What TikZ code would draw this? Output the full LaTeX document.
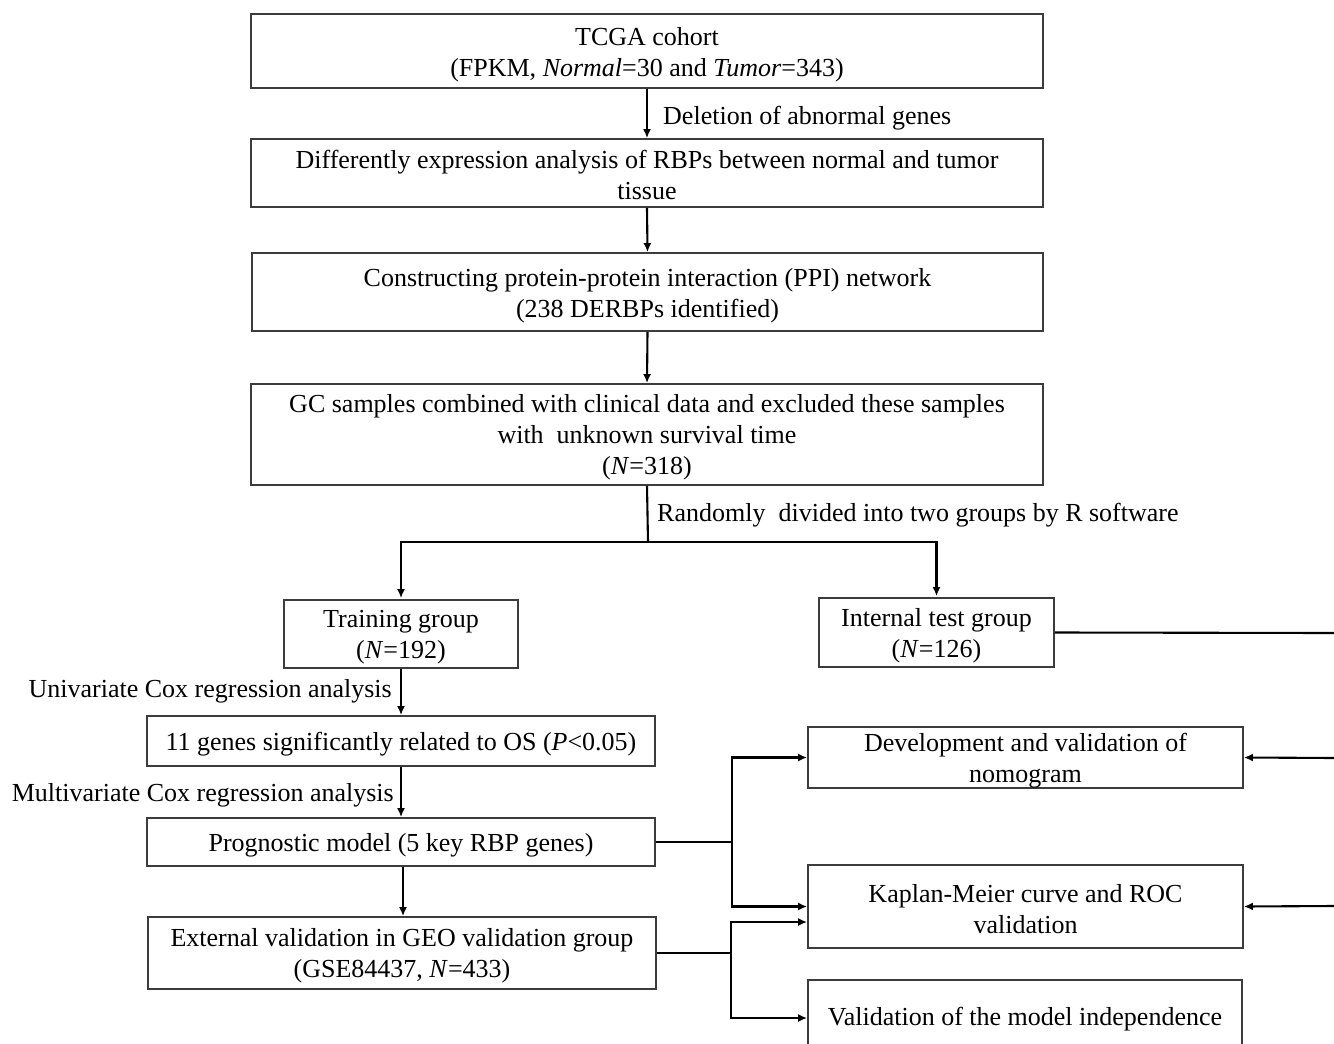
\documentclass[tikz,border=0pt]{standalone}
\usepackage{fontspec}
\setmainfont{Liberation Serif}
\usetikzlibrary{arrows.meta}
\definecolor{boxgray}{HTML}{3C3C3C}
\begin{document}
\begin{tikzpicture}[x=1pt,y=-1pt,
  every node/.style={font=\fontsize{26}{31}\selectfont, inner sep=0pt},
  box/.style={draw=boxgray, line width=1.8pt},
  txt/.style={align=center},
  conn/.style={line width=2.1pt, draw=black},
  arr/.style={conn, -{Latex[length=9pt,width=8pt]}},
  lbl/.style={}]
\useasboundingbox (0,0) rectangle (1334,1044);
\clip (0,0) rectangle (1334,1044);
\fill[white] (0,0) rectangle (1334,1044);

% boxes
\node[box, minimum width=792pt, minimum height=74pt] (tcga) at (647,51) {};
\node[box, minimum width=792pt, minimum height=68pt] (dea) at (647,173) {};
\node[box, minimum width=791pt, minimum height=78pt] (ppi) at (647.5,292) {};
\node[box, minimum width=792pt, minimum height=101pt] (gc) at (647,434.5) {};
\node[box, minimum width=234pt, minimum height=68pt] (train) at (401,634) {};
\node[box, minimum width=235pt, minimum height=69pt] (internal) at (936.5,632.5) {};
\node[box, minimum width=508pt, minimum height=50pt] (genes) at (401,741) {};
\node[box, minimum width=508pt, minimum height=48pt] (prog) at (401,842) {};
\node[box, minimum width=508pt, minimum height=72pt] (ext) at (402,953) {};
\node[box, minimum width=435pt, minimum height=61pt] (dev) at (1025.5,757.5) {};
\node[box, minimum width=435pt, minimum height=83pt] (km) at (1025.5,906.5) {};
\node[box, minimum width=434pt, minimum height=76pt] (val) at (1025,1018) {};

% box texts
\node[txt] (tcgaT) at ([yshift=-3.5pt]tcga.center) {TCGA cohort\\(FPKM, \textit{Normal}=30 and \textit{Tumor}=343)};
\node[txt] (deaT) at ([yshift=-1.5pt]dea.center) {Differently expression analysis of RBPs between normal and tumor\\tissue};
\node[txt] (ppiT) at ([yshift=-3.5pt]ppi.center) {Constructing protein-protein interaction (PPI) network\\(238 DERBPs identified)};
\node[txt] (gcT) at ([yshift=-3pt]gc.center) {GC samples combined with clinical data and excluded these samples\\with~ unknown survival time\\(\textit{N}=318)};
\node[txt] (trainT) at ([yshift=-3.5pt]train.center) {Training group\\(\textit{N}=192)};
\node[txt] (internalT) at ([yshift=-3.5pt]internal.center) {Internal test group\\(\textit{N}=126)};
\node[txt] (genesT) at ([yshift=-3pt]genes.center) {11 genes significantly related to OS (\textit{P}<0.05)};
\node[txt] (progT) at ([yshift=-3pt]prog.center) {Prognostic model (5 key RBP genes)};
\node[txt] (extT) at ([yshift=-3pt]ext.center) {External validation in GEO validation group\\(GSE84437, \textit{N}=433)};
\node[txt] (devT) at ([yshift=-3pt]dev.center) {Development and validation of\\nomogram};
\node[txt] (kmT) at ([yshift=-3pt]km.center) {Kaplan-Meier curve and ROC\\validation};
\node[txt] (valT) at ([yshift=-1pt]val.center) {Validation of the model independence};

% labels
\node[lbl, anchor=west] (ldel) at (663,118) {Deletion of abnormal genes};
\node[lbl, anchor=west] (lrand) at (657,515) {Randomly~ divided into two groups by R software};
\node[lbl, anchor=east] (luni) at (392,691.5) {Univariate Cox regression analysis};
\node[lbl, anchor=east] (lmulti) at (394,795.5) {Multivariate Cox regression analysis};

% coordinates
\coordinate (split) at (648,542);
\coordinate (b1) at (732,842);
\coordinate (b2) at (731,953);
\coordinate (edgeA) at (1334,633);
\coordinate (edgeB) at (1334,758);
\coordinate (edgeC) at (1334,906);

% connectors
\draw[arr] (tcga.south) -- (dea.north);
\draw[arr] (dea.south) -- (ppi.north);
\draw[arr] (ppi.south) -- (gc.north);
\draw[conn] (gc.south) -- (split);
\draw[arr] (split) -| ([yshift=1pt]train.north);
\draw[arr] (split) -| ([yshift=1pt]internal.north);
\draw[conn] (internal.east) -- (edgeA);

\draw[arr] (train.south) -- (genes.north);
\draw[arr] (genes.south) -- (prog.north);
\draw[arr] ([xshift=2pt]prog.south) -- ([xshift=1pt]ext.north);

\draw[conn] (prog.east) -- (b1);
\draw[arr] (b1) |- (dev.west);
\draw[arr] (b1) |- (km.west);
\draw[conn] (ext.east) -- (b2);
\draw[arr] (b2) |- ([yshift=-15.5pt]km.west);
\draw[arr] (b2) |- (val.west);

\draw[arr] (edgeB) -- (dev.east);
\draw[arr] (edgeC) -- (km.east);
\end{tikzpicture}
\end{document}
